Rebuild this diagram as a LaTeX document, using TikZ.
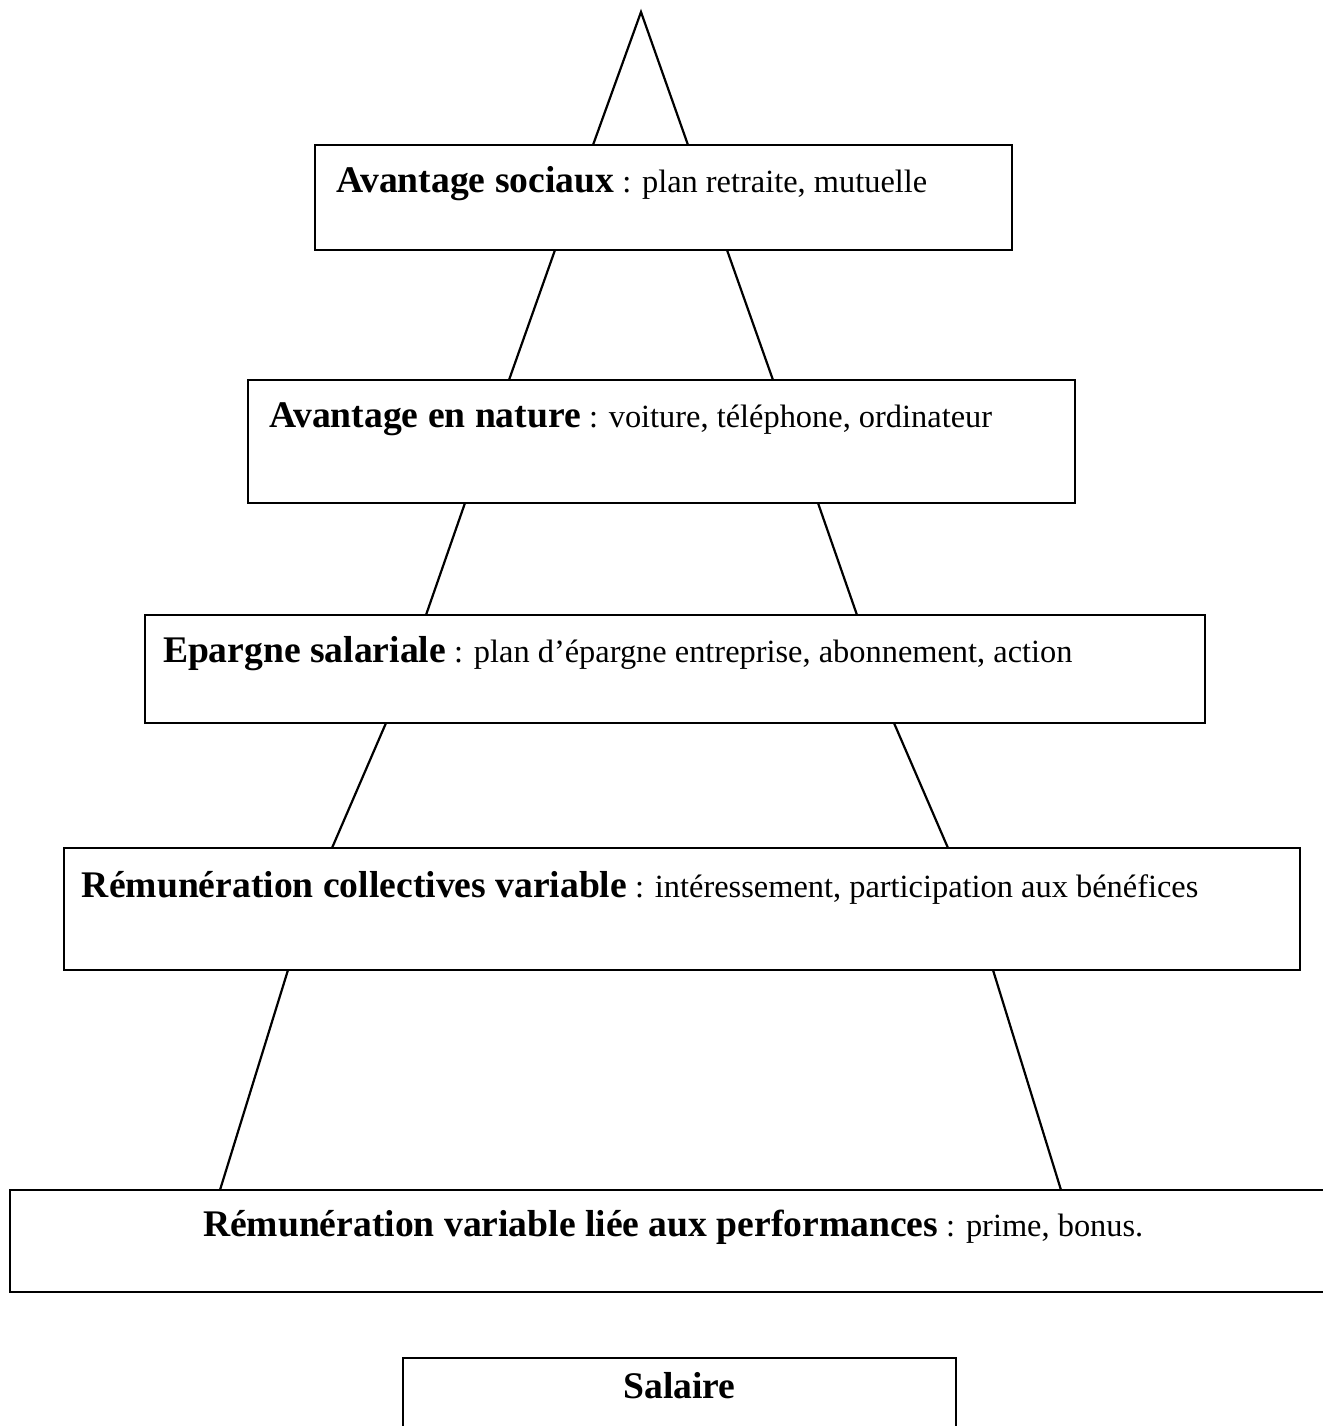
\documentclass[tikz,border=0pt]{standalone}
\usepackage{fontspec}
\setmainfont{Liberation Serif}
\usetikzlibrary{calc}

\newcommand{\headfont}{\fontsize{18.8}{22}\selectfont\bfseries}
\newcommand{\bodyfont}{\fontsize{16.2}{19}\selectfont\mdseries}

\begin{document}
\begin{tikzpicture}[x=0.5pt, y=-0.5pt,
  tier/.style={draw=black, line width=1.2pt, fill=none, inner sep=0pt, outer sep=0pt},
  tiertext/.style={anchor=base west, inner sep=0pt, outer sep=0pt},
  leg/.style={draw=black, line width=1.1pt}]
  \useasboundingbox (0,0) rectangle (1323,1426);
  \clip (0,0) rectangle (1323,1426);

  % pyramid tiers, described by their centres and sizes in page units
  \node[tier, minimum width=697*0.5pt, minimum height=105*0.5pt] (b1) at (663.5,197.5) {};
  \node[tier, minimum width=827*0.5pt, minimum height=123*0.5pt] (b2) at (661.5,441.5) {};
  \node[tier, minimum width=1060*0.5pt, minimum height=108*0.5pt] (b3) at (675,669) {};
  \node[tier, minimum width=1236*0.5pt, minimum height=122*0.5pt] (b4) at (682,909) {};
  \node[tier, minimum width=1330*0.5pt, minimum height=102*0.5pt] (b5) at (675,1241) {};
  \node[tier, minimum width=553*0.5pt, minimum height=100*0.5pt] (b6) at (679.5,1408) {};

  % labels
  \node[tiertext] (t1) at (336,192) {\headfont Avantage sociaux\bodyfont{} : plan retraite, mutuelle};
  \node[tiertext] (t2) at (269,427) {\headfont Avantage en nature\bodyfont{} : voiture, téléphone, ordinateur};
  \node[tiertext] (t3) at (163,662) {\headfont Epargne salariale\bodyfont{} : plan d’épargne entreprise, abonnement, action};
  \node[tiertext] (t4) at (82,897) {\headfont Rémunération collectives variable\bodyfont{} : intéressement, participation aux bénéfices};
  \node[tiertext] (t5) at (203,1236) {\headfont Rémunération variable liée aux performances\bodyfont{} : prime, bonus.};
  \node[anchor=base, inner sep=0pt] (t6) at (679.5,1398) {\headfont Salaire};

  % apex of the pyramid
  \coordinate (apex) at (641,12);
  \draw[leg] (b1.north -| 593,0) -- (apex) -- (b1.north -| 688,0);

  % sloping sides between consecutive tiers
  \draw[leg] (b1.south -| 555,0) -- (b2.north -| 509,0);
  \draw[leg] (b1.south -| 727,0) -- (b2.north -| 773,0);
  \draw[leg] (b2.south -| 465,0) -- (b3.north -| 426,0);
  \draw[leg] (b2.south -| 818,0) -- (b3.north -| 857,0);
  \draw[leg] (b3.south -| 386,0) -- (b4.north -| 332,0);
  \draw[leg] (b3.south -| 894,0) -- (b4.north -| 948,0);
  \draw[leg] (b4.south -| 288,0) -- (b5.north -| 220,0);
  \draw[leg] (b4.south -| 993,0) -- (b5.north -| 1061,0);
\end{tikzpicture}
\end{document}
